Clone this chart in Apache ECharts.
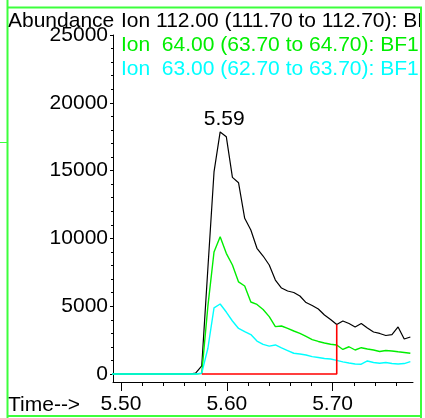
<!DOCTYPE html>
<html><head><meta charset="utf-8">
<script src="https://cdn.jsdelivr.net/npm/echarts@6/dist/echarts.min.js"></script>
<style>html,body{margin:0;padding:0;background:#fff}#c{width:425px;height:418px}</style>
</head><body><div id="c"></div>
<script>
const times = [5.4893,5.4951,5.5009,5.5067,5.5125,5.5183,5.5241,5.5299,5.5357,5.5415,5.5473,5.5531,5.5589,5.5647,
  5.5705,5.5763,5.5821,5.5879,5.5937,5.5995,5.6053,5.6111,5.6169,5.6227,5.6285,5.6343,5.6401,5.6459,5.6517,5.6575,
  5.6633,5.6691,5.6749,5.6807,5.6865,5.6923,5.6981,5.7039,5.7097,5.7155,5.7213,5.7271,5.7329,5.7387,5.7445,5.7503,
  5.7561,5.7619,5.7677,5.7735];
const ion112 = [0,0,0,0,0,0,0,0,0,0,0,0,0,0,
  60,600,7800,14900,17850,17500,14500,14100,11480,10620,9270,8700,
  8040,6930,6340,6120,6010,5750,5270,5050,4790,4350,4020,3650,
  3910,3720,3470,3720,3390,3100,2990,2840,2910,3470,2580,2730];
const ion64 = [0,0,0,0,0,0,0,0,0,0,0,0,0,0,
  0,50,5000,9000,10130,8900,8040,6790,6490,5310,5130,4760,
  4230,3490,3540,3370,3170,3000,2770,2540,2400,2290,2190,2140,
  1810,2010,1770,1940,1840,1770,1660,1730,1700,1640,1590,1530];
const ion63 = [0,0,0,0,0,0,0,0,0,0,0,0,0,0,
  0,60,1900,4870,5160,4570,3910,3360,3120,2910,2430,2180,
  2060,2140,1920,1730,1530,1470,1400,1280,1220,1140,1110,1000,
  890,810,740,720,960,850,790,850,770,740,770,910];
const integTimes = [5.5763, 5.7039, 5.7039];
const integValues = [0, 0, 3650];
const yLabels = [0, 5000, 10000, 15000, 20000, 25000];
const yMinor = [1000,2000,3000,4000,6000,7000,8000,9000,11000,12000,13000,14000,16000,17000,18000,19000,21000,22000,23000,24000];
const xLabels = [5.50, 5.60, 5.70];
const xMinor = [5.52,5.54,5.56,5.58,5.62,5.64,5.66,5.68,5.72,5.74,5.76];
const peakTime = 5.5937, peakValue = 17850, peakLabel = '5.59';
const legendTexts = ['Ion 112.00 (111.70 to 112.70): BF1', 'Ion  64.00 (63.70 to 64.70): BF1', 'Ion  63.00 (62.70 to 63.70): BF1'];
const legendColors = ['#000000', '#00ee00', '#00ffff'];
const yTitle = 'Abundance', xTitle = 'Time-->';

const FONT = 'Liberation Sans, Arial, sans-serif';
const FS = 21;
const pair = (t, v) => t.map((x, i) => [x, v[i]]);
const chart = echarts.init(document.getElementById('c'), null, {renderer: 'canvas'});
const green = '#3cff3c';
const option = {
  animation: false,
  backgroundColor: '#fff',
  grid: {left: 113, right: 12, top: 35, bottom: 36, containLabel: false, outerBoundsMode: 'none'},
  xAxis: [{
    type: 'value', min: 5.4924, max: 5.776, position: 'bottom',
    axisLine: {show: true, onZero: false, lineStyle: {color: '#000', width: 1}},
    axisTick: {show: true, customValues: xLabels, length: 9, lineStyle: {color: '#000'}},
    axisLabel: {show: true, customValues: xLabels, formatter: v => v.toFixed(2), color: '#000', fontSize: FS, fontFamily: FONT, margin: 12},
    splitLine: {show: false}
  }, {
    type: 'value', min: 5.4924, max: 5.776, position: 'bottom', offset: 0,
    axisLine: {show: false, onZero: false},
    axisTick: {show: true, customValues: xMinor, length: 4, lineStyle: {color: '#000'}},
    axisLabel: {show: false},
    splitLine: {show: false}
  }],
  yAxis: [{
    type: 'value', min: -590, max: 25000, position: 'left',
    axisLine: {show: true, onZero: false, lineStyle: {color: '#000', width: 1}},
    axisTick: {show: true, customValues: yLabels, length: 3, lineStyle: {color: '#000'}},
    axisLabel: {show: true, customValues: yLabels, formatter: v => String(v), color: '#000', fontSize: FS, fontFamily: FONT, margin: 5},
    splitLine: {show: false}
  }, {
    type: 'value', min: -590, max: 25000, position: 'left', offset: 0,
    axisLine: {show: false, onZero: false},
    axisTick: {show: true, customValues: yMinor, length: 2, lineStyle: {color: '#000'}},
    axisLabel: {show: false},
    splitLine: {show: false}
  }],
  series: [
    {type: 'line', data: pair(times, ion112), symbol: 'none', lineStyle: {color: '#000', width: 1.2}, itemStyle: {color: '#000'},
     markPoint: {symbol: 'circle', symbolSize: 0, silent: true,
       data: [{coord: [peakTime, peakValue]}],
       label: {show: true, position: 'top', distance: 2, offset: [4, 0], formatter: peakLabel, color: '#000', fontSize: FS, fontFamily: FONT}}},
    {type: 'line', data: pair(times, ion64), symbol: 'none', lineStyle: {color: '#00ee00', width: 1.4}},
    {type: 'line', data: pair(times, ion63), symbol: 'none', lineStyle: {color: '#00ffff', width: 1.4}},
    {type: 'line', data: pair(integTimes, integValues), symbol: 'none', lineStyle: {color: '#ff0000', width: 1.6}}
  ],
  graphic: [
    {type: 'text', z: 50, style: {text: yTitle, x: 8, y: 21, verticalAlign: 'middle', align: 'left', fill: '#000', font: FS + 'px ' + FONT}},
    ...legendTexts.map((t, i) => ({type: 'text', z: 50, style: {text: t, x: 121, y: 21 + i * 24.3, verticalAlign: 'middle', align: 'left', fill: legendColors[i], font: FS + 'px ' + FONT}})),
    {type: 'text', z: 50, style: {text: xTitle, x: 8, y: 405, verticalAlign: 'middle', align: 'left', fill: '#000', font: FS + 'px ' + FONT}},
    {type: 'rect', z: 90, shape: {x: 420, y: 0, width: 5, height: 418}, style: {fill: '#fff'}},
    {type: 'line', z: 100, shape: {x1: 7.5, y1: 0, x2: 7.5, y2: 418}, style: {stroke: green, lineWidth: 2}},
    {type: 'line', z: 100, shape: {x1: 7, y1: 7.5, x2: 422, y2: 7.5}, style: {stroke: green, lineWidth: 2}},
    {type: 'line', z: 100, shape: {x1: 421, y1: 7, x2: 421, y2: 418}, style: {stroke: green, lineWidth: 2}},
    {type: 'line', z: 100, shape: {x1: 7, y1: 416, x2: 422, y2: 416}, style: {stroke: green, lineWidth: 2}},
    {type: 'line', z: 100, shape: {x1: 0, y1: 142.5, x2: 7, y2: 142.5}, style: {stroke: green, lineWidth: 1}}
  ]
};
chart.setOption(option);
</script></body></html>
